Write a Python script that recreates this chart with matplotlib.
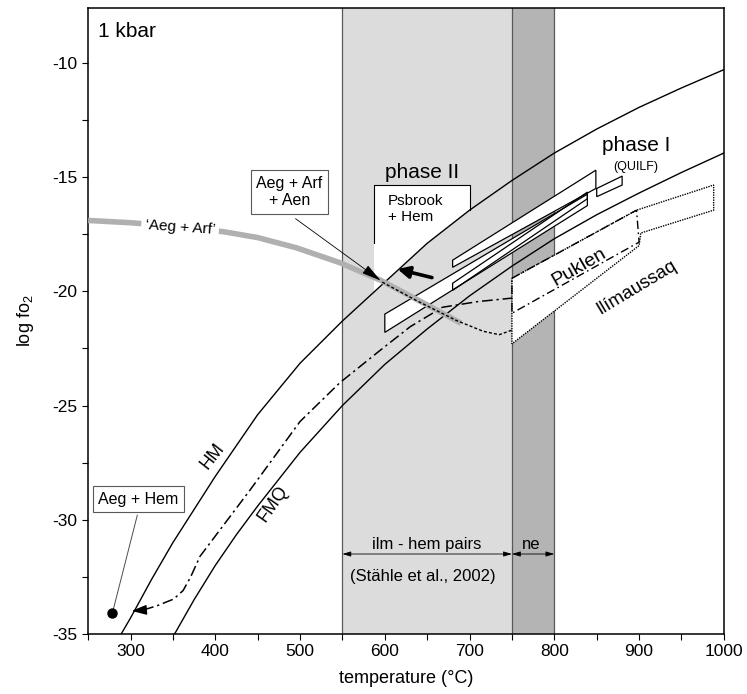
import numpy as np
import matplotlib
matplotlib.use("Agg")
import matplotlib.pyplot as plt
from matplotlib.patches import Rectangle, Polygon

plt.rcParams['font.family'] = ['Liberation Sans', 'DejaVu Sans']
plt.rcParams['mathtext.default'] = 'regular'
plt.rcParams['axes.unicode_minus'] = False

# buffer curves
hm_t = [289, 300, 325, 350, 375, 400, 450, 500, 550, 600, 650, 700, 750, 800, 850, 900, 950, 1000]
hm_fo2 = [-35.0, -34.3, -32.6, -31.0, -29.55, -28.1, -25.4, -23.15, -21.3, -19.6, -17.9, -16.45,
          -15.15, -13.95, -12.9, -11.95, -11.1, -10.3]

fmq_t = [352, 375, 400, 425, 450, 500, 550, 600, 650, 700, 750, 800, 850, 900, 950, 1000]
fmq_fo2 = [-35.0, -33.5, -32.0, -30.65, -29.4, -27.05, -25.0, -23.2, -21.65, -20.2, -18.9, -17.7,
           -16.65, -15.7, -14.8, -13.95]

# 'Aeg + Arf' grey curve and the dotted continuation
grey_t = [250, 300, 350, 411, 450, 496, 547, 594, 640, 690]
grey_fo2 = [-16.9, -17.0, -17.15, -17.4, -17.65, -18.1, -18.75, -19.5, -20.4, -21.4]
dot_t = [597, 637, 684, 716, 735, 750]
dot_fo2 = [-19.6, -20.4, -21.27, -21.75, -21.9, -21.7]

# dash-dot cooling path
dd_t = [315, 331, 351, 362, 371, 382, 441, 500, 547, 594, 630, 668, 710, 750]
dd_fo2 = [-33.95, -33.77, -33.47, -33.1, -32.5, -31.6, -28.7, -25.7, -24.0, -22.6,
          -21.55, -20.7, -20.45, -20.3]

# phase I / II boxes
box_a_t = [600, 839, 839, 600]
box_a_fo2 = [-21.0, -15.75, -16.25, -21.8]
box_b_t = [680, 849, 849, 680]
box_b_fo2 = [-18.64, -14.7, -15.5, -18.95]
box_c_t = [680, 839, 839, 680]
box_c_fo2 = [-19.65, -15.66, -15.95, -19.96]
quilf_t = [850, 880, 880, 850]
quilf_fo2 = [-15.5, -14.96, -15.35, -15.86]

# Puklen / Ilimaussaq
puk_t = [750, 897, 900, 750]
puk_fo2 = [-19.43, -16.45, -17.85, -20.96]
ili_t = [750, 897, 988, 988, 902, 900, 750]
ili_fo2 = [-19.43, -16.45, -15.35, -16.45, -17.45, -18.0, -22.3]

# Psbrook + Hem field
psb_t = [587, 700]
psb_top = -15.35
psb_left_low = -17.9

ilm_hem = [550, 750]
ne_range = [750, 800]

aeg_hem_pt = (278.5, -34.1)

fig = plt.figure(figsize=(7.47, 6.94), dpi=100)
ax = fig.add_axes([0.118, 0.0865, 0.851, 0.902])

ax.axvspan(ilm_hem[0], ilm_hem[1], color='#dcdcdc', zorder=0, lw=0)
ax.axvspan(ne_range[0], ne_range[1], color='#b4b4b4', zorder=0, lw=0)
for x in [ilm_hem[0], ilm_hem[1], ne_range[1]]:
    ax.axvline(x, color='0.35', lw=0.9, zorder=0.5)

# Psbrook + Hem white area above HM
rect = Rectangle((psb_t[0], -25), psb_t[1] - psb_t[0], psb_top + 25,
                 facecolor='white', edgecolor='none', zorder=1)
ax.add_patch(rect)
clip = Polygon(list(zip(hm_t, hm_fo2)) + [(1000, 0), (250, 0)], transform=ax.transData)
rect.set_clip_path(clip)
hm700 = hm_fo2[hm_t.index(700)]
ax.plot([psb_t[0], psb_t[0], psb_t[1], psb_t[1]],
        [psb_left_low, psb_top, psb_top, hm700], color='k', lw=0.8, zorder=1.5)

# white boxes: fills first, then edges
boxes = [(box_a_t, box_a_fo2), (box_b_t, box_b_fo2), (box_c_t, box_c_fo2), (quilf_t, quilf_fo2)]
for bt, bf in boxes:
    ax.fill(bt, bf, facecolor='white', edgecolor='none', zorder=2)
for bt, bf in boxes:
    ax.fill(bt, bf, facecolor='none', edgecolor='k', lw=0.9, zorder=2.5)

ax.fill(ili_t, ili_fo2, facecolor='white', edgecolor='none', zorder=2)
ax.fill(puk_t, puk_fo2, facecolor='white', edgecolor='none', zorder=2)
ax.fill(ili_t, ili_fo2, facecolor='none', edgecolor='k', lw=1.0,
        linestyle=(0, (1.0, 0.8)), zorder=2.5)
ax.fill(puk_t, puk_fo2, facecolor='none', edgecolor='k', lw=1.0,
        linestyle=(0, (6, 2.5, 1.2, 2.5)), zorder=2.6)

ax.plot(hm_t, hm_fo2, color='k', lw=1.0, zorder=4)
ax.plot(fmq_t, fmq_fo2, color='k', lw=1.0, zorder=4)

ax.plot(dd_t, dd_fo2, color='k', lw=1.1, linestyle=(0, (7, 2.5, 1.5, 2.5)), zorder=4)
ax.annotate('', xy=(298, -34.0), xytext=(dd_t[0] + 2, dd_fo2[0]),
            arrowprops=dict(arrowstyle='-|>,head_length=0.9,head_width=0.3',
                            color='k', lw=1.0), zorder=4)

ax.plot(grey_t, grey_fo2, color='#b0b0b0', lw=4.0, solid_capstyle='butt', zorder=5)
ax.plot(dot_t, dot_fo2, color='k', lw=1.0, linestyle=(0, (2.2, 1.5)), zorder=6)

# labels
ax.text(262, -8.65, '1 kbar', fontsize=15, ha='left', va='center')
ax.text(643.5, -14.8, 'phase II', fontsize=15, ha='center', va='center', zorder=7)
ax.text(604, -16.4, 'Psbrook\n+ Hem', fontsize=11, ha='left', va='center',
        linespacing=1.25, zorder=7)
ax.text(897, -13.6, 'phase I', fontsize=15, ha='center', va='center', zorder=7)
ax.text(896, -14.56, '(QUILF)', fontsize=9, ha='center', va='center', zorder=7)

ax.text(358.5, -17.2, '\u2018Aeg + Arf\u2019', fontsize=11, ha='center', va='center',
        rotation=-4, zorder=6,
        bbox=dict(boxstyle='square,pad=0.25', fc='white', ec='none'))

ax.text(487.5, -15.65, 'Aeg + Arf\n+ Aen', fontsize=11.5, ha='center', va='center',
        multialignment='center', linespacing=1.2, zorder=7,
        bbox=dict(boxstyle='square,pad=0.35', fc='white', ec='0.35', lw=0.8))
ax.annotate('', xy=(597.6, -19.6), xytext=(492, -16.75),
            arrowprops=dict(arrowstyle='-|>,head_length=1.2,head_width=0.3',
                            color='k', lw=0.6), zorder=7)

ax.annotate('', xy=(611.8, -19.0), xytext=(658.8, -19.43),
            arrowprops=dict(arrowstyle='-|>,head_length=0.7,head_width=0.35',
                            color='k', lw=2.6), zorder=7)

ax.text(309.5, -29.1, 'Aeg + Hem', fontsize=11.5, ha='center', va='center', zorder=7,
        bbox=dict(boxstyle='square,pad=0.35', fc='white', ec='0.35', lw=0.8))
ax.plot([308, aeg_hem_pt[0]], [-29.8, aeg_hem_pt[1]], color='0.3', lw=0.7, zorder=6)
ax.plot(aeg_hem_pt[0], aeg_hem_pt[1], 'o', color='k', ms=6.5, zorder=7)

ax.text(397, -27.2, 'HM', fontsize=13, ha='center', va='center', rotation=52)
ax.text(468, -29.3, 'FMQ', fontsize=13, ha='center', va='center', rotation=55)
ax.text(829, -18.95, 'Puklen', fontsize=14, ha='center', va='center', rotation=30, zorder=7)
ax.text(897.6, -19.85, 'Ilímaussaq', fontsize=13.5, ha='center', va='center',
        rotation=31, zorder=7)

ax.text(649, -31.1, 'ilm - hem pairs', fontsize=12, ha='center', va='center')
ax.text(773, -31.1, 'ne', fontsize=12, ha='center', va='center')
ax.text(645, -32.5, '(Stähle et al., 2002)', fontsize=12, ha='center', va='center')
for a, b in [ilm_hem, ne_range]:
    ax.annotate('', xy=(a, -31.5), xytext=(b, -31.5),
                arrowprops=dict(arrowstyle='<|-|>,head_length=0.5,head_width=0.15',
                                color='k', lw=0.6, shrinkA=0, shrinkB=0))

ax.set_xlim(250, 1000)
ax.set_ylim(-35, -7.6)
ax.set_xticks(range(300, 1001, 100))
ax.set_xticks(range(250, 1001, 50), minor=True)
ax.set_yticks(range(-35, -9, 5))
ax.set_yticks(np.arange(-35, -7.5, 2.5), minor=True)
ax.tick_params(which='both', direction='out', length=4, width=0.8, labelsize=12.5)
for s in ax.spines.values():
    s.set_linewidth(1.1)

ax.set_xlabel('temperature (°C)', fontsize=13, labelpad=8)
ax.set_ylabel('log fo$_2$', fontsize=13, labelpad=12)

fig.savefig('out.png', dpi=100)
